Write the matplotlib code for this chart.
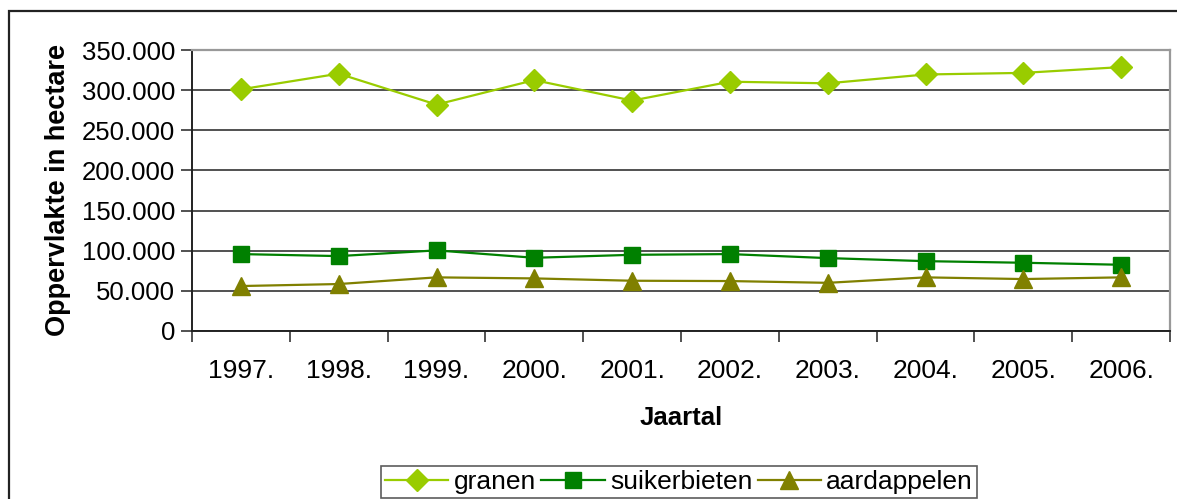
import matplotlib
matplotlib.use("Agg")
import matplotlib.pyplot as plt
from matplotlib.patches import Rectangle
from matplotlib.ticker import FuncFormatter, MultipleLocator

years = ["1997.", "1998.", "1999.", "2000.", "2001.", "2002.", "2003.", "2004.", "2005.", "2006."]
granen = [301000, 320500, 282000, 312500, 287000, 310500, 308500, 319500, 321500, 328700]
suikerbieten = [95800, 93300, 100400, 91200, 94900, 95800, 90800, 87000, 85000, 82500]
aardappelen = [56000, 58500, 66800, 65500, 62600, 62200, 60000, 66800, 64700, 66800]

plt.rcParams['font.family'] = ['Liberation Sans', 'DejaVu Sans']

W, H = 1177, 499
fig = plt.figure(figsize=(W / 100, H / 100), dpi=100)
fig.patch.set_facecolor('white')

# outer border
fig.patches.append(Rectangle((9 / W, -0.1), 1.2, (H - 11) / H + 0.1, transform=fig.transFigure,
                             fill=False, edgecolor='#222222', linewidth=1.6))

L, R, T, B = 192, 1170, 50, 331
ax = fig.add_axes([L / W, (H - B) / H, (R - L) / W, (B - T) / H])

x = list(range(len(years)))
ax.plot(x, granen, color='#99CC00', marker='D', markersize=11, linewidth=1.6, label='granen')
ax.plot(x, suikerbieten, color='#008000', marker='s', markersize=12, linewidth=1.6, label='suikerbieten')
ax.plot(x, aardappelen, color='#808000', marker='^', markersize=13, linewidth=1.6, label='aardappelen')

ax.set_xlim(-0.5, len(years) - 0.5)
ax.set_ylim(0, 350000)
ax.yaxis.set_major_locator(MultipleLocator(50000))
ax.yaxis.set_major_formatter(FuncFormatter(lambda v, p: f"{int(v):,}".replace(",", ".")))
ax.set_xticks(x)
ax.set_xticklabels(years)
ax.set_xticks([i - 0.5 for i in range(len(years) + 1)], minor=True)
ax.tick_params(axis='x', which='major', length=0, pad=20, labelsize=19)
ax.tick_params(axis='x', which='minor', length=8, width=1.2, direction='out', color='#333333')
ax.tick_params(axis='y', length=8, width=1.2, direction='out', labelsize=18.5, pad=4, color='#333333')
ax.grid(axis='y', color='#333333', linewidth=1.2)
ax.set_axisbelow(True)

for s in ['top', 'right']:
    ax.spines[s].set_color('#999999')
    ax.spines[s].set_linewidth(1.6)
for s in ['left', 'bottom']:
    ax.spines[s].set_color('#222222')
    ax.spines[s].set_linewidth(1.4)

ax.set_ylabel('Oppervlakte in hectare', fontsize=19.5, fontweight='bold', labelpad=8)
ax.set_xlabel('Jaartal', fontsize=18.5, fontweight='bold', labelpad=17)

leg = fig.legend(loc='lower left', bbox_to_anchor=(381 / W, 1 - 498 / H, (977 - 381) / W, (498 - 459) / H),
                 ncol=3, mode='expand', fontsize=19, frameon=True, fancybox=False,
                 edgecolor='#333333', handlelength=2.4, handletextpad=0.2, columnspacing=0.4,
                 borderpad=0.15, borderaxespad=0)
leg.get_frame().set_linewidth(1.2)

fig.savefig('out.png', dpi=100)
